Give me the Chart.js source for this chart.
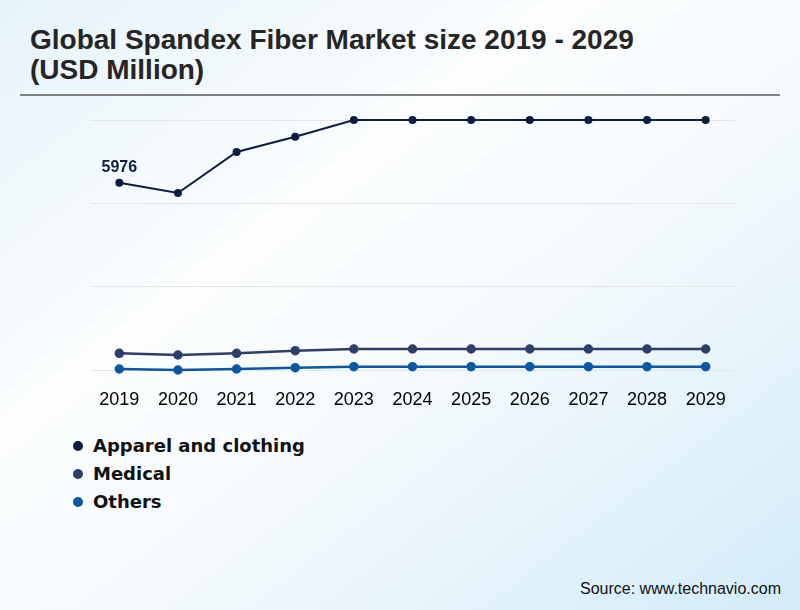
<!DOCTYPE html>
<html>
<head>
<meta charset="utf-8">
<script src="https://cdn.jsdelivr.net/npm/chart.js@4.4.1/dist/chart.umd.min.js"></script>
<style>
  html, body { margin: 0; padding: 0; }
  body {
    width: 800px; height: 610px; position: relative; overflow: hidden;
    background: linear-gradient(to bottom right, #e6f3fa 0%, #fbfdfe 35%, #f7fbfd 55%, #d2ebf8 100%);
    font-family: 'Liberation Sans', Arial, sans-serif;
  }
  #title {
    position: absolute; left: 30px; top: 25px;
    font-size: 28px; font-weight: bold; line-height: 30px; color: #252525;
  }
  #rule { position: absolute; left: 20px; top: 94px; width: 760px; height: 2px; background: #808080; }
  #wrap { position: absolute; left: 0; top: 100px; width: 800px; height: 310px; }
  #legend { position: absolute; left: 73px; top: 432px; font-family: 'DejaVu Sans', sans-serif; font-weight: bold; font-size: 18px; color: #111; }
  #legend div { height: 28px; line-height: 28px; display: flex; align-items: center; }
  #legend span.dot { width: 10px; height: 10px; border-radius: 50%; display: inline-block; margin-right: 10px; }
  #source { position: absolute; right: 19px; top: 580px; font-size: 16px; color: #111; }
</style>
</head>
<body>
<div id="title">Global Spandex Fiber Market size 2019 - 2029<br>(USD Million)</div>
<div id="rule"></div>
<div id="wrap"><canvas id="chart"></canvas></div>
<div id="legend"></div>
<div id="source">Source: www.technavio.com</div>
<script>
const years = ['2019', '2020', '2021', '2022', '2023', '2024', '2025', '2026', '2027', '2028', '2029'];
const seriesNames = ['Apparel and clothing', 'Medical', 'Others'];
const apparel = [5976, 5663, 6905, 7369, 7876, 7876, 7876, 7876, 7876, 7876, 7876];
const medical = [806, 755, 806, 885, 936, 936, 936, 936, 936, 936, 936];
const others = [330, 300, 330, 370, 400, 400, 400, 400, 400, 400, 400];
const colors = ['#0c1c43', '#2d3d6c', '#0a57a3'];

Chart.defaults.font.family = "'Liberation Sans', Arial, sans-serif";

// label on the first point of the first series
const firstLabel = {
    id: 'firstLabel',
    afterDatasetsDraw(chart) {
        const pt = chart.getDatasetMeta(0).data[0];
        const c = chart.ctx;
        c.save();
        c.font = "bold 16px 'Liberation Sans', Arial, sans-serif";
        c.fillStyle = colors[0];
        c.textAlign = 'center';
        c.textBaseline = 'middle';
        c.fillText(String(apparel[0]), pt.x, pt.y - 15);
        c.restore();
    }
};

const allValues = [...apparel, ...medical, ...others];

new Chart(document.querySelector('#chart'), {
    type: 'line',
    data: {
        labels: years,
        datasets: [apparel, medical, others].map((d, i) => ({
            label: seriesNames[i],
            data: d,
            borderColor: colors[i],
            backgroundColor: colors[i],
            borderWidth: i === 0 ? 2 : 2.5,
            pointRadius: i === 0 ? 3 : 3.5,
            pointHoverRadius: 3.5,
            tension: 0,
            clip: false
        }))
    },
    options: {
        responsive: true,
        maintainAspectRatio: false,
        animation: false,
        layout: { padding: { left: 90, right: 65, top: 20, bottom: 0 } },
        plugins: { legend: { display: false }, tooltip: { enabled: false } },
        scales: {
            x: {
                offset: true,
                grid: { display: false },
                border: { display: false },
                ticks: { color: '#000', font: { size: 18 }, padding: 11, maxRotation: 0 },
                afterFit: s => { s.height = 40; }
            },
            y: {
                min: Math.min(...allValues),
                max: Math.max(...allValues),
                grid: { color: '#e4e6e8', drawTicks: false },
                border: { display: false },
                ticks: { display: false, count: 4 },
                afterFit: s => { s.width = 0; }
            }
        }
    },
    plugins: [firstLabel]
});

// html legend
const legend = document.querySelector('#legend');
seriesNames.forEach((name, i) => {
    const row = document.createElement('div');
    row.innerHTML = '<span class="dot" style="background:' + colors[i] + '"></span>' + name;
    legend.appendChild(row);
});
</script>
</body>
</html>
